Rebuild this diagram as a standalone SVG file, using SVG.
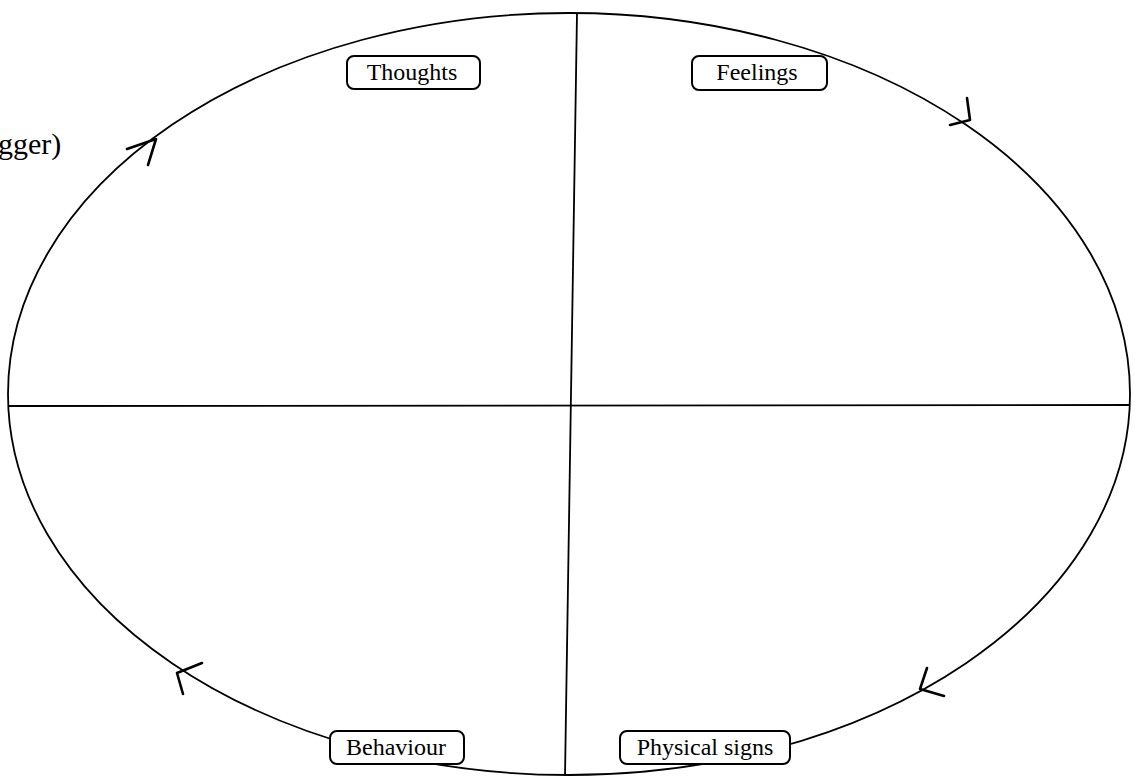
<svg xmlns="http://www.w3.org/2000/svg" width="1135" height="776" viewBox="0 0 1135 776">
<style>
.ln{stroke:#000;stroke-width:1.8;fill:none}
.ar{stroke:#000;stroke-width:2.6;fill:none;stroke-linecap:round;stroke-linejoin:round}
.box{fill:#fff;stroke:#000;stroke-width:2}
.lbl{font-family:"Liberation Serif","DejaVu Serif",serif;font-size:24px;fill:#000;text-anchor:middle}
</style>
<rect width="1135" height="776" fill="#fff"/>
<g id="connectors">
<ellipse class="ln" cx="569" cy="394" rx="561" ry="381"/>
<line class="ln" x1="9" y1="406" x2="1129" y2="405"/>
<line class="ln" x1="577" y1="13" x2="565" y2="776"/>
<path class="ar" d="M127,149 L156,139 L148,165"/>
<path class="ar" d="M967,98 L970,120 L950,125"/>
<path class="ar" d="M202,663 L177,673 L183,694"/>
<path class="ar" d="M927,668 L920,689 L944,696"/>
</g>
<g id="trigger"><text x="-2" y="154" style="font-family:'Liberation Serif','DejaVu Serif',serif;font-size:30px">gger)</text></g>
<g id="thoughts"><rect class="box" x="347" y="56" width="133" height="33" rx="7"/><text class="lbl" x="412" y="80">Thoughts</text></g>
<g id="feelings"><rect class="box" x="692" y="56" width="135" height="34" rx="7"/><text class="lbl" x="757" y="80">Feelings</text></g>
<g id="behaviour"><rect class="box" x="330" y="731" width="134" height="33" rx="7"/><text class="lbl" x="396" y="755">Behaviour</text></g>
<g id="physical"><rect class="box" x="620" y="731" width="170" height="33" rx="7"/><text class="lbl" x="705" y="755">Physical signs</text></g>
</svg>
